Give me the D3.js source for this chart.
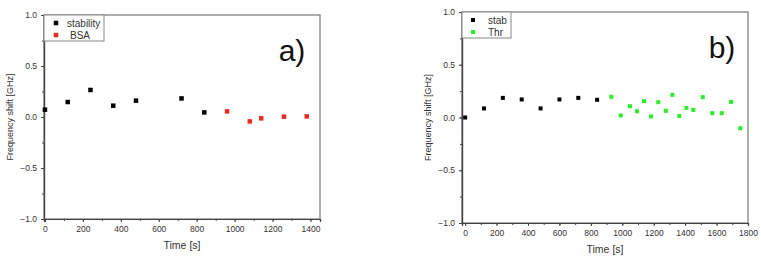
<!DOCTYPE html>
<html>
<head>
<meta charset="utf-8">
<script src="https://cdn.jsdelivr.net/npm/d3@7"></script>
<style>
  body { margin: 0; background: #fff; }
</style>
</head>
<body>
<div id="container"></div>
<script>
// panel a
let stabilityTime = [0, 120, 240, 360, 480, 720, 840];
let stabilityShift = [0.072, 0.147, 0.265, 0.111, 0.16, 0.182, 0.045];
let bsaTime = [960, 1080, 1140, 1260, 1380];
let bsaShift = [0.055, -0.043, -0.013, 0.003, 0.006];
let xTicksA = [0, 200, 400, 600, 800, 1000, 1200, 1400];

// panel b
let stabTime = [0, 120, 240, 360, 480, 600, 720, 840];
let stabShift = [0.0, 0.086, 0.186, 0.171, 0.086, 0.171, 0.186, 0.168];
let thrTime = [930, 990, 1049, 1094, 1138, 1183, 1229, 1277, 1319, 1363, 1408, 1452, 1512, 1573, 1633, 1692, 1751];
let thrShift = [0.196, 0.019, 0.107, 0.06, 0.155, 0.01, 0.145, 0.063, 0.215, 0.015, 0.091, 0.072, 0.193, 0.041, 0.041, 0.148, -0.102];
let xTicksB = [0, 200, 400, 600, 800, 1000, 1200, 1400, 1600, 1800];

let yTicks = [-1.0, -0.5, 0.0, 0.5, 1.0];

const FONT = "'Liberation Sans', Arial, Helvetica, sans-serif";

let svg = d3.select('#container')
            .append("svg")
              .attr("width", 761)
              .attr("height", 263)
              .attr("font-family", FONT);

function drawPanel(p){
  let x = d3.scaleLinear().domain(p.xDomain).range([p.left, p.right]);
  let y = d3.scaleLinear().domain([-1, 1]).range([p.bottom, p.top]);
  let g = svg.append("g");

  // frame
  g.append("rect")
     .attr("x", p.left).attr("y", p.top)
     .attr("width", p.right - p.left).attr("height", p.bottom - p.top)
     .attr("fill", "none").attr("stroke", "#777").attr("stroke-width", 1.2);

  // minor ticks
  let minorX = d3.range(0, p.xTicks[p.xTicks.length - 1] + 1, 100);
  let minorY = d3.range(-1, 1.01, 0.25);
  let xMinor = d3.axisBottom(x).tickValues(minorX).tickSize(2).tickFormat("");
  let yMinor = d3.axisLeft(y).tickValues(minorY).tickSize(2).tickFormat("");
  g.append("g").attr("transform", "translate(0," + p.bottom + ")").call(xMinor);
  g.append("g").attr("transform", "translate(" + p.left + ",0)").call(yMinor);

  let xAxis = d3.axisBottom(x).tickValues(p.xTicks).tickSize(3).tickPadding(4).tickFormat(d3.format("d"));
  let xAxisGroup = g.append("g").attr("transform", "translate(0," + p.bottom + ")");
  xAxisGroup.call(xAxis);
  let yAxis = d3.axisLeft(y).tickValues(yTicks).tickSize(3).tickPadding(4).tickFormat(d3.format(".1f"));
  let yAxisGroup = g.append("g").attr("transform", "translate(" + p.left + ",0)");
  yAxisGroup.call(yAxis);

  g.selectAll("g").attr("font-family", FONT);
  g.selectAll(".domain").attr("stroke", "#444").attr("stroke-width", 1.2);
  g.selectAll(".tick line").attr("stroke", "#444");
  g.selectAll(".tick text").attr("font-size", 8.5).attr("fill", "#333");

  // axis titles
  g.append("text")
     .attr("x", (p.left + p.right) / 2).attr("y", p.bottom + 30)
     .attr("text-anchor", "middle").attr("font-size", 10.5).attr("fill", "#333")
     .text("Time [s]");
  g.append("text")
     .attr("transform", "translate(" + (p.left - 31) + "," + ((p.top + p.bottom) / 2) + ") rotate(-90)")
     .attr("text-anchor", "middle").attr("font-size", 9).attr("fill", "#333")
     .text("Frequency shift [GHz]");

  // points
  p.series.forEach(function(s){
    let pts = s.t.map(function(t, i){ return {t: t, v: s.v[i]}; });
    g.selectAll(null).data(pts).enter().append("rect")
       .attr("x", d => x(d.t) - p.ms / 2)
       .attr("y", d => y(d.v) - p.ms / 2)
       .attr("width", p.ms).attr("height", p.ms)
       .attr("fill", s.color);
  });

  // legend
  let lg = g.append("g");
  lg.append("rect")
     .attr("x", p.left).attr("y", p.top)
     .attr("width", p.legendW).attr("height", 26)
     .attr("fill", "#fff").attr("stroke", "#888").attr("stroke-width", 1);
  p.series.forEach(function(s, i){
    lg.append("rect")
       .attr("x", p.left + p.legendMark - p.ms / 2).attr("y", p.top + 8 + i * 12 - p.ms / 2)
       .attr("width", p.ms).attr("height", p.ms).attr("fill", s.color);
    lg.append("text")
       .attr("x", p.left + p.legendText + (s.indent || 0)).attr("y", p.top + 8 + i * 12 + 3.5)
       .attr("font-size", 10).attr("fill", "#333")
       .text(s.name);
  });

  // panel label
  g.append("text")
     .attr("x", p.labelX).attr("y", p.top + 46)
     .attr("text-anchor", "middle").attr("font-size", 30)
     .attr("fill", "#111")
     .text(p.label);
}

drawPanel({
  left: 44, right: 320, top: 15, bottom: 219,
  xDomain: [-5, 1450], xTicks: xTicksA,
  ms: 4.5, legendW: 60, legendMark: 12, legendText: 23,
  label: "a)", labelX: 292,
  series: [
    {name: "stability", t: stabilityTime, v: stabilityShift, color: "#000"},
    {name: "BSA", t: bsaTime, v: bsaShift, color: "#e82a22", indent: 3}
  ]
});

drawPanel({
  left: 462, right: 748, top: 12, bottom: 223,
  xDomain: [-20, 1800], xTicks: xTicksB,
  ms: 4, legendW: 49, legendMark: 11, legendText: 26,
  label: "b)", labelX: 722,
  series: [
    {name: "stab", t: stabTime, v: stabShift, color: "#000"},
    {name: "Thr", t: thrTime, v: thrShift, color: "#2aee2a"}
  ]
});
</script>
</body>
</html>
